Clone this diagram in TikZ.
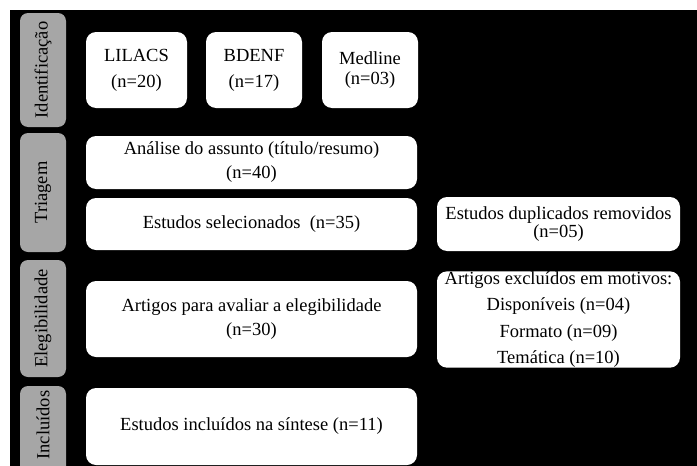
\documentclass[tikz,border=0pt]{standalone}
\usepackage{fontspec}
\setmainfont{Liberation Serif}
\definecolor{sidegray}{RGB}{166,166,166}
\newcommand{\fs}{\fontsize{18.5}{22}\selectfont}
\tikzset{
  box/.style={fill=white, rounded corners=10pt, align=center, inner sep=0pt, font=\fs},
  side/.style={fill=sidegray, rounded corners=8pt, rotate=90, inner sep=0pt,
    minimum height=46pt, font=\fs}
}
\begin{document}
\begin{tikzpicture}[x=1pt,y=-1pt]
      % Background and frame
      \useasboundingbox (0,0) rectangle (697,466);
      \fill[black] (10,10) rectangle (697,466);

      % Phases on the left
      \node[side, minimum width=114pt] (ident) at (43,70) {Identificação};
      \node[side, minimum width=119pt] (triag) at (43,192.5) {Triagem};
      \node[side, minimum width=117pt] (eleg) at (43,318.5) {Elegibilidade};
      \fill[sidegray, rounded corners=8pt] (20,386) rectangle (66,490);
      \node[side, fill=none] (incl) at (43,425) {Incluídos};

      % Databases
      \node[box, minimum width=101pt, minimum height=76pt] (lilacs) at (136.5,70) {LILACS\\[4pt](n=20)};
      \node[box, minimum width=96pt, minimum height=76pt] (bdenf) at (254,70) {BDENF\\[4pt](n=17)};
      \node[box, minimum width=96pt, minimum height=76pt] (medline) at (370,70) {Medline\\[-2pt](n=03)};

      % Screening
      \node[box, minimum width=331pt, minimum height=53pt] (analise) at (251.5,162.5) {Análise do assunto (título/resumo)\\[2pt](n=40)};
      \node[box, minimum width=331pt, minimum height=52pt] (selec) at (251.5,224) {Estudos selecionados~~(n=35)};
      \node[box, minimum width=243pt, minimum height=54pt] (dupl) at (558.5,224) {Estudos duplicados removidos\\[-3.5pt](n=05)};

      % Eligibility
      \node[box, minimum width=331pt, minimum height=76pt] (avaliar) at (251.5,319) {Artigos para avaliar a elegibilidade\\[2pt](n=30)};
      \node[box, minimum width=243pt, minimum height=95pt] (excl) at (558.5,319.5) {Artigos excluídos em motivos:\\[4.5pt]Disponíveis (n=04)\\[4.5pt]Formato (n=09)\\[4.5pt]Temática (n=10)};

      % Included
      \node[box, minimum width=331pt, minimum height=77pt] (sintese) at (251.5,426.5) {Estudos incluídos na síntese (n=11)};
\end{tikzpicture}
\end{document}
